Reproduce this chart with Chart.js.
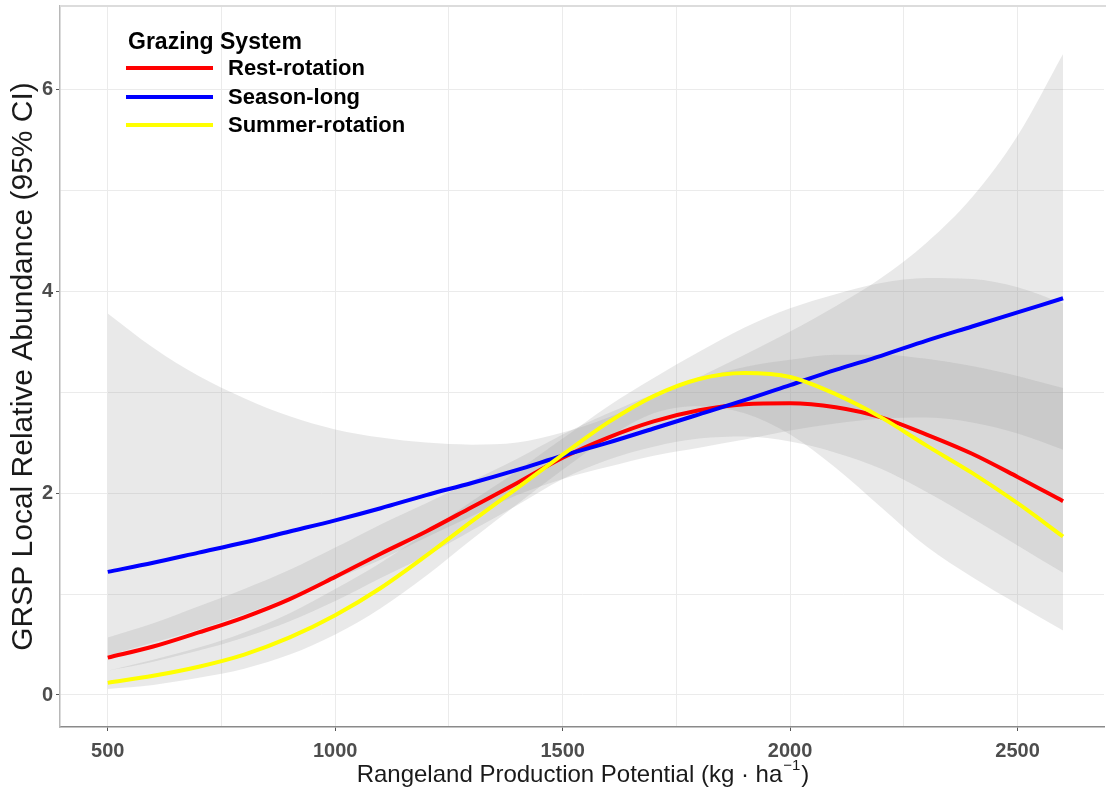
<!DOCTYPE html>
<html>
<head>
<meta charset="utf-8">
<script src="https://cdn.jsdelivr.net/npm/chart.js@4.4.1/dist/chart.umd.min.js"></script>
<style>
    html, body { margin: 0; padding: 0; background: #ffffff; }
    #wrap { width: 1106px; height: 790px; position: relative; }
</style>
</head>
<body>
<div id="wrap"><canvas id="grspChart"></canvas></div>
<script>
// production potential (kg/ha)
const production = [500, 600, 700, 800, 900, 1000, 1100, 1200, 1300, 1400, 1500,
    1600, 1700, 1800, 1900, 2000, 2100, 2200, 2300, 2400, 2500, 2600];

const restRotation = [0.37, 0.48, 0.62, 0.77, 0.95, 1.17, 1.40, 1.62, 1.86, 2.10, 2.35,
    2.55, 2.71, 2.82, 2.88, 2.89, 2.85, 2.75, 2.58, 2.39, 2.16, 1.92];
const restUpper = [0.57, 0.71, 0.88, 1.05, 1.24, 1.46, 1.69, 1.90, 2.12, 2.34, 2.58,
    2.79, 2.98, 3.13, 3.25, 3.32, 3.37, 3.37, 3.33, 3.26, 3.16, 3.04];
const restLower = [0.24, 0.33, 0.44, 0.57, 0.73, 0.93, 1.16, 1.38, 1.63, 1.88, 2.14,
    2.33, 2.46, 2.54, 2.56, 2.51, 2.40, 2.24, 2.01, 1.75, 1.48, 1.21];

const seasonLong = [1.22, 1.31, 1.41, 1.51, 1.62, 1.73, 1.85, 1.98, 2.10, 2.23, 2.37,
    2.50, 2.64, 2.78, 2.92, 3.07, 3.22, 3.36, 3.51, 3.65, 3.79, 3.93];
const seasonUpper = [3.78, 3.44, 3.16, 2.94, 2.76, 2.63, 2.55, 2.50, 2.48, 2.50, 2.60,
    2.75, 2.94, 3.15, 3.37, 3.60, 3.85, 4.13, 4.48, 4.93, 5.54, 6.35];
const seasonLower = [0.39, 0.52, 0.65, 0.80, 0.97, 1.15, 1.34, 1.56, 1.77, 1.98, 2.14,
    2.26, 2.37, 2.45, 2.53, 2.62, 2.69, 2.74, 2.75, 2.70, 2.59, 2.43];

const summerRotation = [0.12, 0.19, 0.28, 0.40, 0.57, 0.79, 1.06, 1.38, 1.72, 2.05, 2.38,
    2.70, 2.96, 3.13, 3.19, 3.15, 2.98, 2.75, 2.47, 2.20, 1.90, 1.57];
const summerUpper = [0.24, 0.35, 0.47, 0.62, 0.81, 1.05, 1.31, 1.61, 1.92, 2.22, 2.54,
    2.86, 3.14, 3.40, 3.64, 3.83, 3.97, 4.08, 4.13, 4.12, 4.04, 3.88];
const summerLower = [0.06, 0.10, 0.17, 0.26, 0.40, 0.60, 0.86, 1.18, 1.54, 1.89, 2.23,
    2.55, 2.79, 2.86, 2.79, 2.58, 2.25, 1.86, 1.47, 1.17, 0.90, 0.64];

const seriesNames = ['Rest-rotation', 'Season-long', 'Summer-rotation'];
const seriesColors = ['#ff0000', '#0000ff', '#ffff00'];

const xTicks = [500, 1000, 1500, 2000, 2500];
const xGrid = [500, 750, 1000, 1250, 1500, 1750, 2000, 2250, 2500];
const yTicks = [0, 2, 4, 6];
const yGrid = [0, 1, 2, 3, 4, 5, 6];

const FONT = '"Liberation Sans", Arial, sans-serif';
const bandColor = 'rgba(153, 153, 153, 0.22)';

function pts(ys) {
    return production.map((x, i) => ({x: x, y: ys[i]}));
}

function band(ys, fillTo) {
    return {
        data: pts(ys),
        borderWidth: 0,
        pointRadius: 0,
        backgroundColor: bandColor,
        fill: fillTo,
        cubicInterpolationMode: 'monotone',
        order: 1
    };
}

function curve(ys, color, label) {
    return {
        label: label,
        data: pts(ys),
        borderColor: color,
        borderWidth: 4,
        pointRadius: 0,
        fill: false,
        cubicInterpolationMode: 'monotone',
        order: 0
    };
}

// draws axis titles, legend and the light frame on top
const decorations = {
    id: 'decorations',
    afterDraw(chart) {
        const ctx = chart.ctx;
        const area = chart.chartArea;
        ctx.save();

        ctx.strokeStyle = '#dcdcdc';
        ctx.lineWidth = 2;
        ctx.beginPath();
        ctx.moveTo(area.left, area.top);
        ctx.lineTo(area.right + 2, area.top);
        ctx.stroke();

        // x title
        ctx.fillStyle = '#1a1a1a';
        ctx.textBaseline = 'alphabetic';
        ctx.textAlign = 'left';
        const main = 'Rangeland Production Potential (kg \u00b7 ha';
        const sup = '\u22121';
        const close = ')';
        ctx.font = '24px ' + FONT;
        const w1 = ctx.measureText(main).width;
        ctx.font = '15px ' + FONT;
        const w2 = ctx.measureText(sup).width;
        ctx.font = '24px ' + FONT;
        const w3 = ctx.measureText(close).width;
        let sx = (area.left + area.right) / 2 - (w1 + w2 + w3) / 2;
        const base = 782;
        ctx.fillText(main, sx, base);
        ctx.font = '15px ' + FONT;
        ctx.fillText(sup, sx + w1 + 1, base - 12);
        ctx.font = '24px ' + FONT;
        ctx.fillText(close, sx + w1 + w2 + 2, base);

        // y title
        ctx.save();
        ctx.translate(32, (area.top + area.bottom) / 2);
        ctx.rotate(-Math.PI / 2);
        ctx.textAlign = 'center';
        ctx.font = '30px ' + FONT;
        ctx.fillText('GRSP Local Relative Abundance (95% CI)', 0, 0);
        ctx.restore();

        // legend
        ctx.textAlign = 'left';
        ctx.fillStyle = '#000000';
        ctx.font = 'bold 23px ' + FONT;
        ctx.fillText('Grazing System', 128, 49);
        const rows = [68, 97, 125];
        ctx.textBaseline = 'middle';
        ctx.font = 'bold 22px ' + FONT;
        seriesNames.forEach((name, i) => {
            ctx.strokeStyle = seriesColors[i];
            ctx.lineWidth = 4;
            ctx.beginPath();
            ctx.moveTo(126, rows[i]);
            ctx.lineTo(213, rows[i]);
            ctx.stroke();
            ctx.fillStyle = '#000000';
            ctx.fillText(name, 228, rows[i] + 1);
        });
        ctx.restore();
    }
};

new Chart(document.getElementById('grspChart'), {
    type: 'line',
    data: {
        datasets: [
            band(seasonUpper, 1),
            band(seasonLower, false),
            band(restUpper, 3),
            band(restLower, false),
            band(summerUpper, 5),
            band(summerLower, false),
            curve(summerRotation, seriesColors[2], seriesNames[2]),
            curve(seasonLong, seriesColors[1], seriesNames[1]),
            curve(restRotation, seriesColors[0], seriesNames[0])
        ]
    },
    options: {
        responsive: true,
        maintainAspectRatio: false,
        animation: false,
        layout: {padding: {top: 6, right: 2, left: 0, bottom: 0}},
        plugins: {
            legend: {display: false},
            tooltip: {enabled: false}
        },
        scales: {
            x: {
                type: 'linear',
                min: 395,
                max: 2690,
                afterBuildTicks: function (scale) { scale.ticks = xGrid.map(v => ({value: v})); },
                afterFit: function (scale) {
                    scale.height = 63;
                    scale.paddingLeft = 0;
                    scale.paddingRight = 0;
                },
                border: {color: '#8a8a8a', width: 1.5},
                grid: {
                    color: '#ebebeb',
                    lineWidth: 1,
                    tickLength: 4,
                    tickColor: ctx => xTicks.includes(ctx.tick.value) ? '#555555' : 'rgba(0,0,0,0)'
                },
                ticks: {
                    autoSkip: false,
                    maxRotation: 0,
                    padding: 8,
                    color: '#4d4d4d',
                    font: {family: FONT, size: 20, weight: 'bold'},
                    callback: v => xTicks.includes(v) ? String(v) : ''
                }
            },
            y: {
                type: 'linear',
                min: -0.317,
                max: 6.825,
                afterBuildTicks: function (scale) { scale.ticks = yGrid.map(v => ({value: v})); },
                afterFit: function (scale) {
                    scale.width = 60;
                    scale.paddingTop = 0;
                    scale.paddingBottom = 0;
                },
                border: {color: '#b8b8b8', width: 1.5},
                grid: {
                    color: '#ebebeb',
                    lineWidth: 1,
                    tickLength: 4,
                    tickColor: ctx => yTicks.includes(ctx.tick.value) ? '#555555' : 'rgba(0,0,0,0)'
                },
                ticks: {
                    autoSkip: false,
                    padding: 3,
                    color: '#4d4d4d',
                    font: {family: FONT, size: 20, weight: 'bold'},
                    callback: v => yTicks.includes(v) ? String(v) : ''
                }
            }
        }
    },
    plugins: [decorations]
});
</script>
</body>
</html>
